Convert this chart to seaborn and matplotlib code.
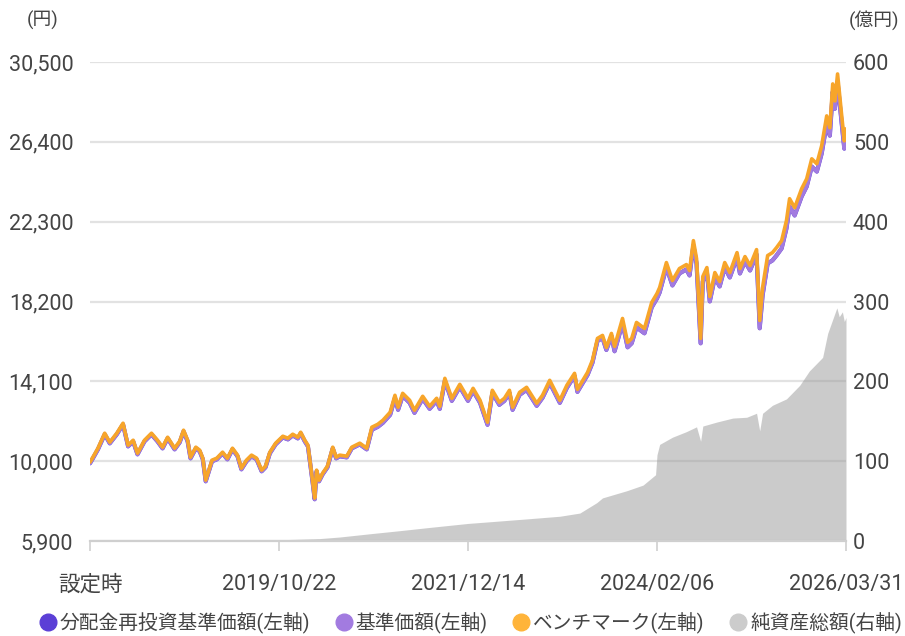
import numpy as np
import pandas as pd
import matplotlib
matplotlib.use('Agg')
import matplotlib.pyplot as plt
from matplotlib.lines import Line2D
import seaborn as sns

# ---------------- data ----------------
dates = [
    "2017-08-29", "2017-09-10", "2017-10-01", "2017-10-29", "2017-11-19", "2017-12-18", "2018-01-13", "2018-02-03", "2018-02-24", "2018-03-14",
    "2018-04-12", "2018-05-11", "2018-06-05", "2018-06-26", "2018-07-17", "2018-08-15", "2018-09-05", "2018-09-21", "2018-10-08", "2018-10-20",
    "2018-11-11", "2018-11-27", "2018-12-10", "2018-12-22", "2019-01-04", "2019-01-17", "2019-02-06", "2019-03-02", "2019-03-22", "2019-04-12",
    "2019-05-03", "2019-05-19", "2019-06-09", "2019-06-30", "2019-07-21", "2019-08-11", "2019-08-27", "2019-09-14", "2019-10-08", "2019-11-07",
    "2019-11-28", "2019-12-18", "2020-01-08", "2020-01-20", "2020-02-06", "2020-02-19", "2020-03-01", "2020-03-09", "2020-03-18", "2020-03-26",
    "2020-04-05", "2020-04-20", "2020-05-10", "2020-06-01", "2020-06-15", "2020-06-30", "2020-07-29", "2020-08-19", "2020-09-21", "2020-10-20",
    "2020-11-10", "2020-12-05", "2020-12-26", "2021-01-25", "2021-02-14", "2021-02-27", "2021-03-18", "2021-04-16", "2021-05-06", "2021-06-09",
    "2021-07-08", "2021-08-06", "2021-08-19", "2021-09-09", "2021-10-08", "2021-11-10", "2021-12-14", "2022-01-04", "2022-02-02", "2022-03-05",
    "2022-03-25", "2022-04-23", "2022-05-14", "2022-06-04", "2022-06-17", "2022-07-16", "2022-08-14", "2022-09-25", "2022-10-19", "2022-11-18",
    "2022-12-30", "2023-01-28", "2023-03-01", "2023-03-13", "2023-04-24", "2023-05-14", "2023-06-04", "2023-06-25", "2023-07-11", "2023-08-01",
    "2023-08-14", "2023-09-16", "2023-10-07", "2023-10-24", "2023-11-13", "2023-12-16", "2024-01-15", "2024-02-06", "2024-02-17", "2024-03-16",
    "2024-04-10", "2024-05-09", "2024-06-07", "2024-06-20", "2024-07-06", "2024-07-19", "2024-08-05", "2024-08-14", "2024-08-31", "2024-09-12",
    "2024-10-03", "2024-10-23", "2024-11-13", "2024-12-04", "2025-01-03", "2025-01-15", "2025-02-05", "2025-02-26", "2025-03-25", "2025-04-07",
    "2025-04-19", "2025-05-10", "2025-05-30", "2025-06-16", "2025-07-07", "2025-07-27", "2025-08-09", "2025-08-30", "2025-09-28", "2025-10-19",
    "2025-11-09", "2025-11-30", "2025-12-20", "2026-01-10", "2026-01-23", "2026-02-04", "2026-02-13", "2026-02-24", "2026-03-12", "2026-03-24",
    "2026-03-31",
]

benchmark = [
    9950, 10205, 10666, 11435, 10974, 11435, 11948, 10820, 11076, 10410,
    11076, 11435, 11076, 10718, 11230, 10666, 11025, 11589, 11076, 10205,
    10718, 10564, 10154, 9026, 9539, 10051, 10154, 10461, 10154, 10666,
    10310, 9641, 10051, 10310, 10154, 9539, 9744, 10461, 10923, 11281,
    11179, 11384, 11230, 11486, 11076, 10820, 9795, 9026, 8104, 9539,
    9026, 9385, 9744, 10718, 10205, 10310, 10256, 10718, 10923, 10666,
    11743, 11896, 12101, 12511, 13383, 12768, 13485, 13126, 12614, 13333,
    12818, 13229, 12818, 14254, 13229, 13946, 13229, 13741, 13126, 11999,
    13639, 13024, 13229, 13639, 12768, 13536, 13793, 12973, 13383, 14151,
    13126, 13895, 14510, 13690, 14561, 15176, 16304, 16458, 15843, 16560,
    15894, 17329, 16099, 16304, 17124, 16816, 18149, 18610, 18918, 20199,
    19276, 19891, 20096, 19789, 21326, 20404, 16304, 19481, 19943, 18456,
    19686, 19225, 20199, 19686, 20711, 19891, 20506, 20045, 20865, 17226,
    18918, 20558, 20711, 20968, 21326, 22351, 23479, 23018, 23991, 24504,
    25529, 25273, 26195, 27733, 27118, 29373, 28501, 29885, 27886, 26451,
    27066,
]

nav = [
    9890, 10145, 10606, 11375, 10914, 11375, 11888, 10760, 11016, 10350,
    11016, 11375, 11016, 10658, 11170, 10606, 10965, 11529, 11016, 10145,
    10658, 10504, 10094, 8966, 9479, 9991, 10094, 10401, 10094, 10606,
    10250, 9581, 9991, 10250, 10094, 9479, 9684, 10401, 10863, 11221,
    11119, 11324, 11170, 11426, 11016, 10760, 9735, 8966, 8044, 9479,
    8966, 9325, 9684, 10658, 10145, 10250, 10196, 10658, 10863, 10606,
    11613, 11766, 11971, 12381, 13253, 12638, 13355, 12996, 12484, 13203,
    12688, 13099, 12688, 14124, 13099, 13816, 13099, 13611, 12996, 11869,
    13509, 12894, 13099, 13509, 12638, 13406, 13663, 12843, 13253, 14021,
    12996, 13765, 14380, 13560, 14431, 15046, 16174, 16328, 15713, 16430,
    15644, 17079, 15849, 16054, 16874, 16566, 17899, 18360, 18668, 19949,
    19026, 19641, 19846, 19539, 21076, 20154, 16054, 19231, 19693, 18206,
    19436, 18975, 19949, 19436, 20461, 19641, 20256, 19795, 20615, 16826,
    18518, 20158, 20311, 20568, 20926, 21951, 23079, 22618, 23591, 24104,
    25129, 24873, 25795, 27333, 26718, 28973, 28101, 29485, 27486, 26051,
    26666,
]

# no distributions were paid, so the reinvested NAV equals the NAV
nav_reinvested = nav

na_dates = [
    "2017-08-29", "2018-09-05", "2019-10-22", "2020-04-06", "2020-06-30", "2020-10-31", "2021-03-08", "2021-07-08",
    "2021-12-14", "2022-04-23", "2022-08-28", "2022-12-30", "2023-03-23", "2023-06-01", "2023-06-25", "2023-10-04",
    "2023-12-10", "2024-01-31", "2024-02-06", "2024-02-17", "2024-04-10", "2024-06-07", "2024-07-19", "2024-08-05",
    "2024-08-14", "2024-10-11", "2024-12-17", "2025-02-12", "2025-03-25", "2025-04-07", "2025-04-19", "2025-05-30",
    "2025-07-27", "2025-09-20", "2025-10-30", "2025-12-24", "2026-01-14", "2026-02-21", "2026-03-03", "2026-03-16",
    "2026-03-24", "2026-03-31",
]
net_assets = [
    0.5, 0.8, 1.5, 3, 5, 9, 13, 17,
    22, 25, 28, 31, 35, 48, 54, 63,
    70, 83, 108, 121, 130, 137, 143, 125,
    144, 149, 154, 155, 160, 138, 160, 170,
    178, 195, 213, 230, 260, 292, 281, 287,
    275, 280,
]

left_ticks = [5900, 10000, 14100, 18200, 22300, 26400, 30500]
left_labels = ["5,900", "10,000", "14,100", "18,200", "22,300", "26,400", "30,500"]
right_ticks = [0, 100, 200, 300, 400, 500, 600]
x_tick_dates = ["2017-08-29", "2019-10-22", "2021-12-14", "2024-02-06", "2026-03-31"]
x_tick_labels = ["設定時", "2019/10/22", "2021/12/14", "2024/02/06", "2026/03/31"]
series_names = ["分配金再投資基準価額(左軸)", "基準価額(左軸)", "ベンチマーク(左軸)", "純資産総額(右軸)"]

# ---------------- style ----------------
sns.set_theme(style="white")
plt.rcParams['font.family'] = ['Roboto', 'Noto Sans CJK JP', 'DejaVu Sans']

C_REINV = '#5b3fd6'
C_NAV = '#a27be0'
C_BM = '#f7a52a'
C_NA = '#cccccc'
TXT = '#444444'

df = pd.DataFrame({
    'date': pd.to_datetime(dates),
    'benchmark': benchmark,
    'nav': nav,
    'nav_reinvested': nav_reinvested,
})
na = pd.DataFrame({'date': pd.to_datetime(na_dates), 'net_assets': net_assets})

fig = plt.figure(figsize=(9.05, 6.36), dpi=100)
ax = fig.add_axes([90 / 905, 1 - 541 / 636, (846 - 90) / 905, (541 - 62) / 636])
ax2 = ax.twinx()

# net assets area (right axis scale) on the primary axes, drawn behind lines
ax.fill_between(na['date'], na['net_assets'], 0, color='#999999', alpha=0.5, linewidth=0)
ax.set_ylim(0, 600)
ax.set_yticks(right_ticks)
ax.set_yticklabels([str(t) for t in right_ticks])
ax.yaxis.tick_right()
ax.grid(axis='y', color='#e2e2e2', linewidth=1.6)
ax.grid(axis='x', visible=False)
ax.set_axisbelow(True)

sns.lineplot(data=df, x='date', y='nav_reinvested', ax=ax2, color=C_REINV, linewidth=3.0)
sns.lineplot(data=df, x='date', y='nav', ax=ax2, color=C_NAV, linewidth=2.8)
sns.lineplot(data=df, x='date', y='benchmark', ax=ax2, color=C_BM, linewidth=2.6)
ax2.set_ylim(5900, 30500)
ax2.set_yticks(left_ticks)
ax2.set_yticklabels(left_labels)
ax2.yaxis.tick_left()
ax2.grid(False)
ax2.set_ylabel('')
ax.set_ylabel('')
ax.set_xlabel('')

ax.set_xlim(pd.Timestamp('2017-08-29'), pd.Timestamp('2026-03-31'))
ax.set_xticks(pd.to_datetime(x_tick_dates))
ax.set_xticklabels(x_tick_labels)

for s in ax.spines.values():
    s.set_visible(False)
for s in ax2.spines.values():
    s.set_visible(False)
ax.spines['bottom'].set_visible(True)
ax.spines['bottom'].set_color('#cfcfcf')
ax.spines['bottom'].set_linewidth(1.6)

ax.tick_params(axis='x', bottom=True, length=7, width=1.2, color='#cfcfcf',
               pad=17, labelsize=15.5, labelcolor=TXT)
ax.tick_params(axis='y', right=False, left=False, labelright=True, labelleft=False,
               length=0, pad=5, labelsize=15.5, labelcolor=TXT)
ax2.tick_params(axis='y', left=False, right=False, labelleft=True, labelright=False,
                length=0, pad=12, labelsize=15.5, labelcolor=TXT)

fig.text(43 / 905, 1 - 20 / 636, '(円)', ha='center', va='center', fontsize=13.5, color=TXT)
fig.text(874 / 905, 1 - 20 / 636, '(億円)', ha='center', va='center', fontsize=13.5, color=TXT)

handles = [Line2D([], [], linestyle='none', marker='o', markersize=12, color=c)
           for c in [C_REINV, C_NAV, '#ffb43a', C_NA]]
fig.legend(handles, series_names, loc='center', bbox_to_anchor=(470 / 905, 1 - 623 / 636),
           ncol=4, frameon=False, fontsize=14.2, handletextpad=0.1, columnspacing=1.2,
           handlelength=1.0, labelcolor=TXT)

fig.savefig('out.png', dpi=100)
